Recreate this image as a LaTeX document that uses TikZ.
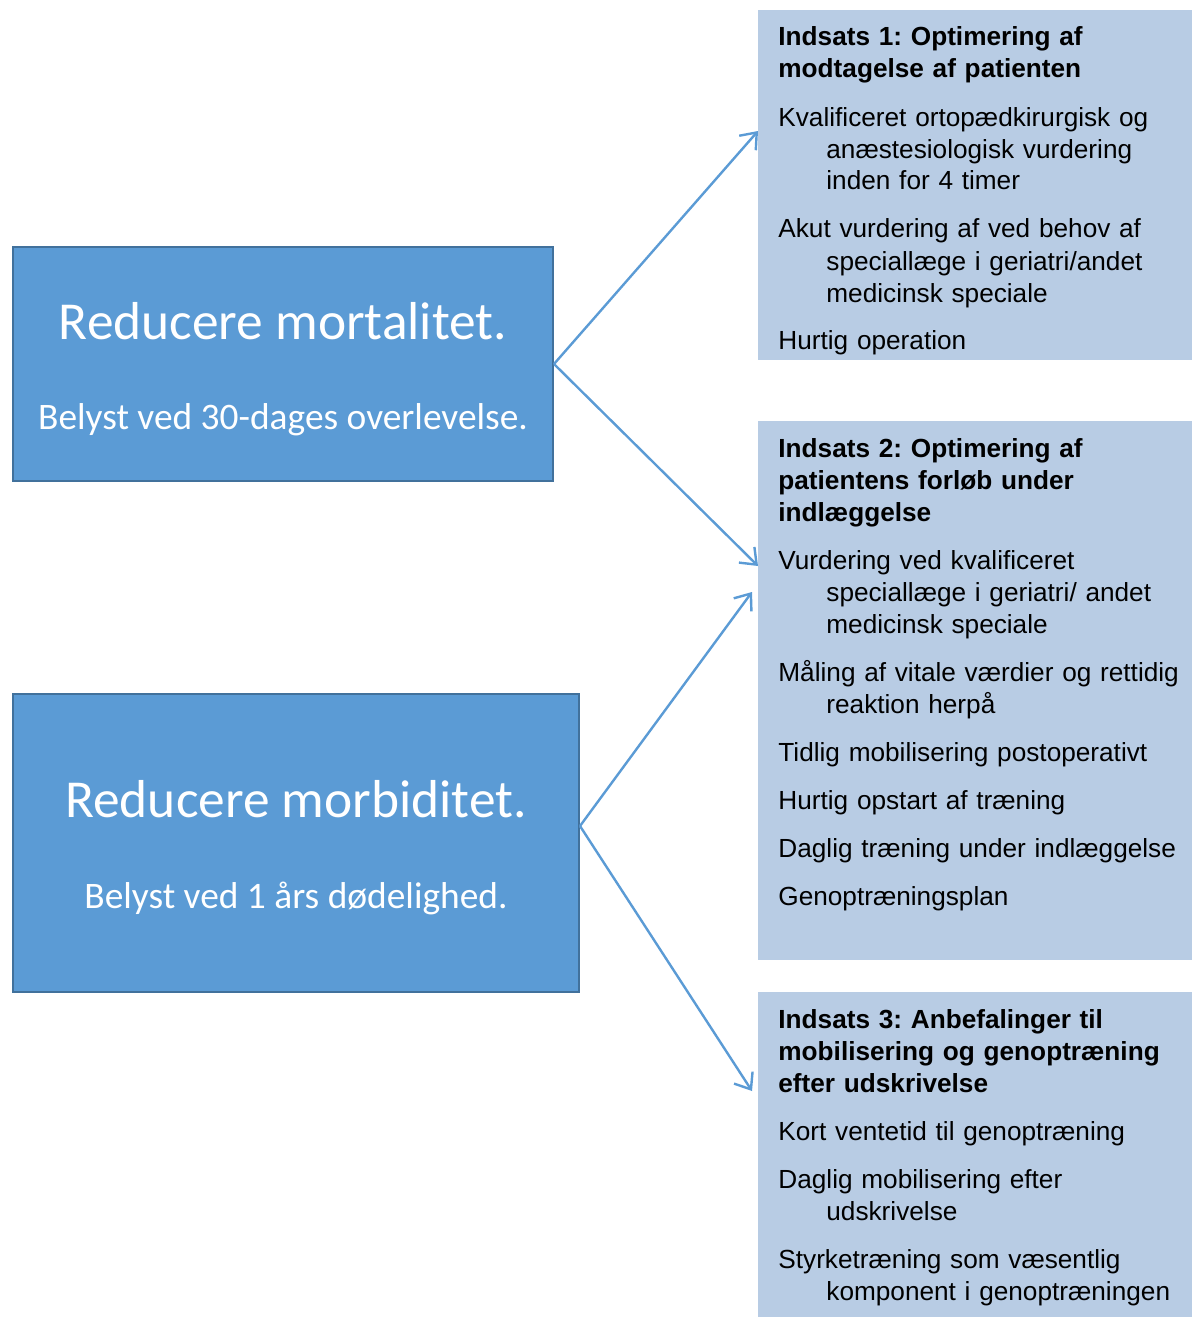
\documentclass[tikz,border=0pt]{standalone}
\usepackage{fontspec}
\setmainfont{Liberation Sans}
\newfontfamily\goalfont{Carlito}
\usetikzlibrary{arrows.meta}
\frenchspacing

\definecolor{goalblue}{HTML}{5B9BD5}
\definecolor{goaledge}{HTML}{41719C}
\definecolor{panelblue}{HTML}{B8CCE4}

\begin{document}
\begin{tikzpicture}[x=0.5pt,y=-0.5pt,
    goal/.style={draw=goaledge,line width=1pt,fill=goalblue,inner sep=0pt},
    goaltitle/.style={text=white,font=\goalfont\fontsize{26.7}{30}\selectfont,anchor=base,inner sep=0pt},
    goalnote/.style={text=white,font=\goalfont\fontsize{18.7}{22}\selectfont,anchor=base,inner sep=0pt},
    panel/.style={fill=panelblue,inner sep=0pt,anchor=north west,minimum width=217pt},
    paneltext/.style={anchor=base west,inner sep=0pt,text width=214pt,align=left,font=\fontsize{13.1}{16}\selectfont},
    link/.style={draw=goalblue,line width=1.2pt,-{Straight Barb[length=7pt,width=11pt]}}]

    \useasboundingbox (0,0) rectangle (1192,1317);

    % goal boxes on the left
    \node[goal,minimum width=270pt,minimum height=117pt] (mort) at (283,364) {};
    \node[goaltitle] (mort-title) at (283,339) {Reducere mortalitet.};
    \node[goalnote] (mort-note) at (283,429) {Belyst ved 30-dages overlevelse.};

    \node[goal,minimum width=283pt,minimum height=149pt] (morb) at (296,843) {};
    \node[goaltitle] (morb-title) at (296,817) {Reducere morbiditet.};
    \node[goalnote] (morb-note) at (296,908) {Belyst ved 1 års dødelighed.};

    % panels on the right
    \node[panel,minimum height=175pt] (p1) at (758,10) {};
    \node[paneltext] (p1-text) at (778,46) {%
        \textbf{Indsats 1: Optimering af}\\
        \textbf{modtagelse af patienten}\\[8pt]
        Kvalificeret ortopædkirurgisk og\\
        \hspace*{24pt}anæstesiologisk vurdering\\
        \hspace*{24pt}inden for 4 timer\\[8pt]
        Akut vurdering af ved behov af\\
        \hspace*{24pt}speciallæge i geriatri/andet\\
        \hspace*{24pt}medicinsk speciale\\[8pt]
        Hurtig operation};

    \node[panel,minimum height=269.5pt] (p2) at (758,421) {};
    \node[paneltext] (p2-text) at (778,457) {%
        \textbf{Indsats 2: Optimering af}\\
        \textbf{patientens forløb under}\\
        \textbf{indlæggelse}\\[8pt]
        Vurdering ved kvalificeret\\
        \hspace*{24pt}speciallæge i geriatri/ andet\\
        \hspace*{24pt}medicinsk speciale\\[8pt]
        Måling af vitale værdier og rettidig\\
        \hspace*{24pt}reaktion herpå\\[8pt]
        Tidlig mobilisering postoperativt\\[8pt]
        Hurtig opstart af træning\\[8pt]
        Daglig træning under indlæggelse\\[8pt]
        Genoptræningsplan};

    \node[panel,minimum height=162.5pt] (p3) at (758,992) {};
    \node[paneltext] (p3-text) at (778,1028) {%
        \textbf{Indsats 3: Anbefalinger til}\\
        \textbf{mobilisering og genoptræning}\\
        \textbf{efter udskrivelse}\\[8pt]
        Kort ventetid til genoptræning\\[8pt]
        Daglig mobilisering efter\\
        \hspace*{24pt}udskrivelse\\[8pt]
        Styrketræning som væsentlig\\
        \hspace*{24pt}komponent i genoptræningen};

    % arrows
    \coordinate (morb-out) at (580,826);
    \coordinate (p1-in) at (758,131);
    \coordinate (p2-in) at (758,566);
    \coordinate (p2-in2) at (752,592);
    \coordinate (p3-in) at (752,1091);

    \draw[link] (mort.east) -- (p1-in);
    \draw[link] (mort.east) -- (p2-in);
    \draw[link] (morb-out) -- (p2-in2);
    \draw[link] (morb-out) -- (p3-in);

\end{tikzpicture}
\end{document}
